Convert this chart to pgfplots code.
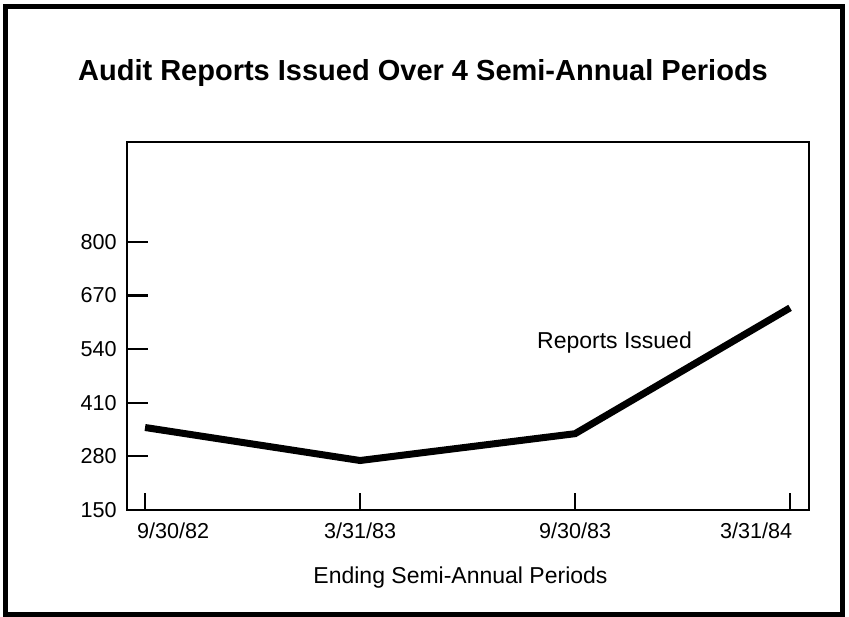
\documentclass[border=0pt]{standalone}
\usepackage{pgfplots}
\pgfplotsset{compat=1.18}
\usepackage{fontspec}
\setmainfont{Liberation Sans}
\begin{document}
\begin{tikzpicture}[x=1bp,y=1bp]
\useasboundingbox (-63.5,-53.5) rectangle (361,255);
\draw[line width=2.5bp] (-60.75,-52) rectangle (358,251.75);
\begin{axis}[
  at={(0,0)}, anchor=south west,
  scale only axis,
  width=341bp, height=184bp,
  xmin=-0.084, xmax=3.088,
  ymin=150, ymax=1042,
  axis line style={line width=1.1bp},
  xtick pos=bottom, ytick pos=left,
  xtick={0,1,2,3},
  xticklabels={\makebox[0pt][l]{\hspace*{-4bp}9/30/82},3/31/83,9/30/83,\makebox[0pt][r]{3/31/84\hspace*{-1bp}}},
  ytick={150,280,410,540,670,800},
  tick align=inside,
  x tick style={line width=1.1bp, black, /pgfplots/major tick length=8.5bp},
  y tick style={line width=1.1bp, black, /pgfplots/major tick length=10.5bp},
  /pgf/number format/assume math mode=true,
  yticklabel style={font=\fontsize{10.8bp}{13bp}\selectfont, inner sep=0pt, anchor=east, xshift=-5bp},
  xticklabel style={font=\fontsize{10.8bp}{13bp}\selectfont, inner sep=0pt, anchor=north, yshift=-6bp},
  scaled ticks=false,
  clip=false,
]
\addplot[line width=3.5bp, black, line join=miter] coordinates {
  (0,350) (1,270) (2,335) (3,640)
};
\end{axis}
\node[anchor=base, inner sep=0pt, font=\fontsize{14.5bp}{17bp}\selectfont\bfseries] at (148,215) {Audit Reports Issued Over 4 Semi-Annual Periods};
\node[anchor=base, inner sep=0pt, font=\fontsize{11.5bp}{14bp}\selectfont] at (243.75,81) {Reports Issued};
\node[anchor=base, inner sep=0pt, font=\fontsize{11.5bp}{14bp}\selectfont] at (166.75,-36.5) {Ending Semi-Annual Periods};
\end{tikzpicture}
\end{document}
